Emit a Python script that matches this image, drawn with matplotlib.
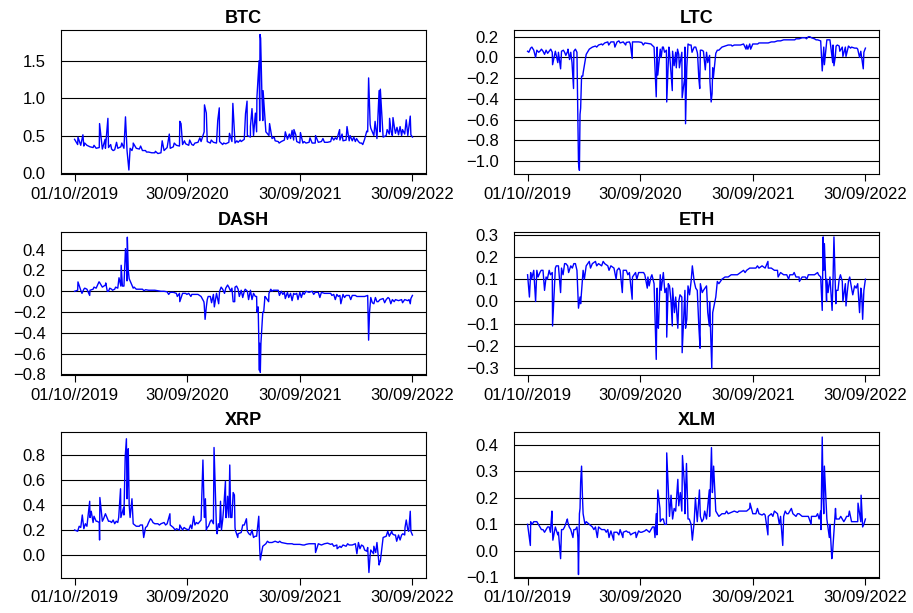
import numpy as np
import matplotlib
matplotlib.use("Agg")
import matplotlib.pyplot as plt

plt.rcParams["font.family"] = ["Liberation Sans", "DejaVu Sans"]

# -------------------------------
# Data (day index from 01/10/2019)
# -------------------------------

base_days = np.arange(0, 1100, 10)
end_day = 1095

xtick_days = [0, 365, 730, 1095]
xtick_labels = ["01/10//2019", "30/09/2020", "30/09/2021", "30/09/2022"]

btc_base = [
    0.45, 0.38, 0.37, 0.36, 0.37, 0.35, 0.34, 0.33, 0.34, 0.32,
    0.33, 0.34, 0.32, 0.31, 0.33, 0.35, 0.33, 0.30, 0.33, 0.36,
    0.33, 0.32, 0.30, 0.30, 0.28, 0.27, 0.27, 0.26, 0.27, 0.30,
    0.34, 0.33, 0.35, 0.37, 0.36, 0.38, 0.39, 0.37, 0.38, 0.40,
    0.41, 0.42, 0.55, 0.42, 0.40, 0.41, 0.40, 0.42, 0.38, 0.39,
    0.41, 0.42, 0.40, 0.41, 0.42, 0.45, 0.50, 0.48, 0.50, 0.55,
    0.70, 0.70, 0.55, 0.50, 0.46, 0.43, 0.42, 0.42, 0.44, 0.45,
    0.46, 0.44, 0.42, 0.40, 0.40, 0.40, 0.41, 0.40, 0.40, 0.41,
    0.42, 0.41, 0.41, 0.42, 0.44, 0.45, 0.44, 0.43, 0.44, 0.43,
    0.43, 0.42, 0.42, 0.40, 0.45, 0.55, 0.60, 0.50, 0.46, 0.55,
    0.48, 0.50, 0.52, 0.50, 0.53, 0.51, 0.50, 0.52, 0.50, 0.51,
]
btc_end = 0.48
btc_spike_days = [11, 27, 81, 99, 108, 136, 165, 176, 190, 284, 307, 341, 345,
                  406, 421, 427, 464, 469, 502, 513, 554, 559, 570, 575, 586,
                  591, 598, 601, 603, 607, 611, 632, 683, 705, 711, 732, 781,
                  859, 883, 947, 953, 958, 974, 987, 991, 1021, 1032, 1045,
                  1055, 1075, 1088]
btc_spike_vals = [0.48, 0.51, 0.66, 0.45, 0.73, 0.41, 0.75, 0.04, 0.40, 0.43,
                  0.52, 0.69, 0.66, 0.47, 0.91, 0.80, 0.70, 0.87, 0.53, 0.93,
                  0.79, 0.96, 0.62, 0.86, 0.80, 1.01, 1.50, 1.85, 1.80, 1.08,
                  1.10, 0.66, 0.55, 0.57, 0.58, 0.54, 0.50, 0.58, 0.62, 0.56,
                  1.27, 0.65, 0.69, 1.10, 1.12, 0.73, 0.74, 0.61, 0.62, 0.71,
                  0.76]
btc_minor_days = [33, 45, 63, 117, 125, 153, 186, 214, 233, 262, 323, 356,
                  373, 385, 443, 483, 526, 537, 647, 663, 696, 717, 744, 763,
                  805, 834, 845, 867, 893, 905, 914, 925, 934, 1013, 1026,
                  1037, 1063, 1083]
btc_minor_vals = [0.40, 0.36, 0.37, 0.38, 0.30, 0.40, 0.30, 0.36, 0.28, 0.29,
                  0.40, 0.43, 0.44, 0.37, 0.44, 0.40, 0.43, 0.44, 0.48, 0.40,
                  0.52, 0.51, 0.42, 0.47, 0.46, 0.48, 0.47, 0.52, 0.50, 0.48,
                  0.46, 0.40, 0.38, 0.58, 0.55, 0.60, 0.58, 0.60]

ltc_base = [
    0.06, 0.09, 0.07, 0.07, 0.06, 0.06, 0.07, 0.06, 0.05, 0.06,
    0.05, 0.06, 0.05, 0.06, 0.05, 0.06, 0.05, -0.55, -0.15, 0.03,
    0.08, 0.10, 0.11, 0.12, 0.13, 0.14, 0.15, 0.15, 0.15, 0.15,
    0.14, 0.15, 0.145, 0.15, 0.15, 0.15, 0.15, 0.145, 0.14, 0.135,
    0.13, 0.10, 0.10, 0.08, 0.10, 0.07, 0.05, 0.06, 0.05, 0.03,
    0.05, 0.10, 0.13, 0.12, 0.10, 0.05, 0.07, 0.06, 0.05, 0.02,
    -0.10, 0.04, 0.07, 0.10, 0.11, 0.12, 0.12, 0.12, 0.12, 0.12,
    0.13, 0.12, 0.13, 0.13, 0.13, 0.14, 0.14, 0.14, 0.14, 0.15,
    0.15, 0.16, 0.16, 0.17, 0.17, 0.17, 0.17, 0.18, 0.18, 0.19,
    0.19, 0.20, 0.19, 0.18, 0.17, 0.16, 0.10, 0.17, 0.17, 0.12,
    0.11, 0.11, 0.10, 0.10, 0.11, 0.10, 0.09, 0.08, 0.06, 0.05,
]
ltc_end = 0.09
ltc_spike_days = [26, 55, 81, 98, 107, 136, 144, 149, 161, 165, 168, 172, 175,
                  179, 339, 417, 422, 451, 469, 482, 492, 501, 509, 512, 516,
                  551, 555, 558, 576, 591, 595, 598, 602, 708, 723, 955, 962,
                  989, 993, 997, 1022, 1032, 1076, 1088]
ltc_spike_vals = [0.00, 0.03, -0.07, -0.05, -0.11, -0.02, -0.05, -0.30, -0.15,
                  -1.02, -1.09, -0.49, -0.18, -0.18, -0.01, -0.38, -0.17,
                  -0.43, -0.32, -0.10, -0.10, -0.39, -0.20, -0.64, -0.10,
                  0.03, -0.20, -0.30, -0.12, -0.23, -0.43, -0.35, -0.20, 0.08,
                  0.08, -0.13, -0.07, -0.05, -0.08, 0.00, 0.01, 0.01, 0.00,
                  -0.11]
ltc_minor_days = [4, 14, 36, 45, 65, 75, 88, 116, 124, 131, 155, 224, 243,
                  263, 283, 296, 318, 333, 357, 375, 403, 433, 437, 444, 458,
                  475, 486, 525, 533, 545, 565, 584, 615, 663, 684, 714, 746,
                  795, 866, 904, 915, 935, 1004, 1012, 1047, 1067]
ltc_minor_vals = [0.05, 0.10, 0.05, 0.08, 0.04, 0.08, 0.03, 0.07, 0.02, 0.08,
                  0.08, 0.10, 0.12, 0.12, 0.10, 0.16, 0.12, 0.13, 0.15, 0.12,
                  0.12, 0.00, 0.10, 0.05, 0.10, -0.08, 0.08, 0.12, 0.05, 0.10,
                  0.07, -0.05, 0.07, 0.11, 0.12, 0.08, 0.13, 0.15, 0.17, 0.18,
                  0.20, 0.17, 0.12, 0.06, 0.09, 0.09]

dash_base = [
    0.00, 0.01, 0.01, 0.02, 0.02, 0.01, 0.02, 0.03, 0.09, 0.04,
    0.06, 0.00, 0.02, 0.02, 0.03, 0.05, 0.05, 0.10, 0.10, 0.03,
    0.02, 0.02, 0.02, 0.015, 0.01, 0.01, 0.01, 0.005, 0.00, 0.00,
    -0.005, -0.01, -0.01, -0.02, -0.02, -0.02, -0.02, -0.02, -0.03, -0.03,
    -0.03, -0.05, -0.12, -0.08, -0.05, -0.03, -0.02, 0.00, 0.02, 0.03,
    0.04, 0.03, 0.04, 0.02, 0.01, 0.00, 0.00, 0.01, -0.02, -0.05,
    -0.50, -0.20, -0.06, -0.02, 0.00, 0.01, 0.01, 0.00, -0.01, -0.01,
    -0.02, -0.02, -0.02, -0.01, -0.01, 0.00, -0.01, 0.00, -0.01, -0.01,
    -0.01, -0.02, -0.02, -0.02, -0.03, -0.03, -0.04, -0.03, -0.04, -0.04,
    -0.04, -0.04, -0.05, -0.05, -0.05, -0.04, -0.06, -0.12, -0.10, -0.08,
    -0.07, -0.08, -0.07, -0.08, -0.08, -0.09, -0.08, -0.08, -0.09, -0.07,
]
dash_end = -0.04
dash_spike_days = [11, 49, 79, 101, 106, 144, 151, 155, 165, 168, 171, 174,
                   177, 305, 341, 419, 423, 427, 453, 467, 514, 519, 564, 586,
                   591, 595, 598, 599, 602, 604, 607, 613, 629, 683, 705, 724,
                   863, 953, 956, 1088]
dash_spike_vals = [0.09, -0.04, 0.09, 0.08, 0.00, 0.13, 0.25, 0.05, 0.41,
                   0.28, 0.52, 0.20, 0.12, -0.03, -0.10, -0.10, -0.27, -0.15,
                   -0.15, -0.12, -0.10, -0.10, -0.08, -0.05, -0.20, -0.15,
                   -0.60, -0.76, -0.78, -0.50, -0.35, -0.20, -0.10, -0.07,
                   -0.09, -0.08, -0.12, -0.47, -0.20, -0.12]
dash_minor_days = [24, 33, 63, 86, 114, 123, 133, 193, 225, 318, 333, 364,
                   377, 433, 444, 475, 486, 496, 506, 525, 534, 545, 553, 575,
                   617, 636, 644, 664, 675, 694, 714, 735, 744, 775, 795, 834,
                   845, 855, 875, 895, 915, 965, 975, 984, 1005, 1016, 1025,
                   1036, 1063, 1084]
dash_minor_vals = [-0.02, 0.03, 0.04, 0.06, 0.03, 0.01, 0.04, 0.04, 0.005,
                   -0.01, -0.05, -0.03, -0.05, -0.05, -0.11, 0.04, -0.02,
                   0.06, 0.00, 0.05, -0.05, -0.06, 0.02, -0.08, -0.05, 0.02,
                   0.01, -0.04, -0.03, -0.06, -0.03, -0.06, -0.03, -0.03,
                   -0.06, -0.04, -0.08, -0.05, -0.06, -0.08, -0.05, -0.11,
                   -0.06, -0.10, -0.11, -0.06, -0.12, -0.10, -0.11, -0.08]

eth_base = [
    0.12, 0.13, 0.14, 0.14, 0.13, 0.14, 0.11, 0.14, 0.13, 0.15,
    0.16, 0.15, 0.17, 0.16, 0.16, 0.17, 0.14, 0.02, 0.14, 0.16,
    0.18, 0.17, 0.18, 0.17, 0.16, 0.17, 0.16, 0.16, 0.15, 0.14,
    0.14, 0.14, 0.14, 0.13, 0.11, 0.13, 0.13, 0.13, 0.12, 0.11,
    0.11, 0.08, 0.06, 0.12, 0.13, 0.06, 0.07, 0.06, 0.02, 0.00,
    0.02, 0.05, 0.07, 0.09, 0.09, 0.05, 0.08, 0.05, 0.07, 0.00,
    -0.05, 0.02, 0.08, 0.10, 0.11, 0.11, 0.12, 0.12, 0.12, 0.13,
    0.14, 0.14, 0.15, 0.15, 0.15, 0.15, 0.16, 0.15, 0.15, 0.15,
    0.14, 0.14, 0.13, 0.12, 0.12, 0.12, 0.12, 0.11, 0.11, 0.11,
    0.11, 0.12, 0.12, 0.12, 0.13, 0.11, 0.14, 0.10, 0.11, 0.10,
    0.05, 0.10, 0.09, 0.08, 0.09, 0.06, 0.07, 0.08, 0.06, 0.05,
]
eth_end = 0.10
eth_spike_days = [6, 26, 55, 81, 107, 165, 168, 172, 287, 307, 339, 388, 417,
                  421, 424, 451, 465, 469, 487, 501, 512, 516, 534, 555, 559,
                  584, 589, 597, 779, 881, 955, 958, 962, 969, 987, 993, 999,
                  1022, 1032, 1054, 1076, 1086]
eth_spike_vals = [0.02, 0.00, 0.05, -0.11, 0.04, -0.03, 0.00, -0.01, 0.10,
                  0.04, 0.01, 0.06, -0.26, -0.10, -0.12, -0.16, 0.00, -0.11,
                  -0.12, -0.23, -0.12, -0.08, 0.16, -0.11, -0.21, -0.05,
                  -0.11, -0.30, 0.18, 0.09, -0.04, 0.29, 0.26, 0.00, -0.04,
                  0.29, -0.01, 0.00, -0.02, 0.03, -0.05, -0.08]
eth_minor_days = [13, 34, 44, 64, 74, 93, 115, 124, 133, 145, 155, 184, 204,
                  224, 245, 264, 296, 325, 354, 376, 394, 403, 433, 445, 456,
                  476, 494, 525, 545, 566, 575, 615, 705, 745, 812, 835, 846,
                  864, 905, 925, 943, 974, 1006, 1014, 1036, 1044, 1065, 1083]
eth_minor_vals = [0.10, 0.11, 0.14, 0.10, 0.12, 0.16, 0.12, 0.17, 0.13, 0.15,
                  0.17, 0.10, 0.15, 0.16, 0.18, 0.14, 0.15, 0.12, 0.10, 0.13,
                  0.07, 0.12, 0.05, 0.04, 0.08, -0.05, 0.03, 0.03, 0.06, 0.04,
                  0.06, 0.09, 0.13, 0.16, 0.11, 0.12, 0.10, 0.13, 0.10, 0.12,
                  0.12, 0.04, 0.05, 0.12, 0.04, 0.11, 0.06, 0.03]

xrp_base = [
    0.20, 0.19, 0.22, 0.21, 0.23, 0.30, 0.26, 0.27, 0.26, 0.27,
    0.33, 0.27, 0.26, 0.25, 0.26, 0.30, 0.32, 0.45, 0.30, 0.25,
    0.23, 0.23, 0.24, 0.22, 0.26, 0.28, 0.25, 0.25, 0.25, 0.26,
    0.25, 0.24, 0.22, 0.21, 0.20, 0.20, 0.21, 0.20, 0.21, 0.24,
    0.25, 0.28, 0.35, 0.22, 0.27, 0.25, 0.20, 0.22, 0.28, 0.30,
    0.30, 0.30, 0.22, 0.17, 0.18, 0.24, 0.19, 0.16, 0.14, 0.15,
    0.05, 0.07, 0.09, 0.10, 0.10, 0.11, 0.10, 0.10, 0.095, 0.09,
    0.09, 0.085, 0.085, 0.085, 0.08, 0.085, 0.09, 0.09, 0.09, 0.09,
    0.08, 0.09, 0.095, 0.085, 0.07, 0.08, 0.07, 0.08, 0.07, 0.08,
    0.08, 0.09, 0.10, 0.08, 0.04, 0.06, 0.04, 0.07, 0.10, -0.05,
    0.14, 0.15, 0.15, 0.17, 0.16, 0.16, 0.16, 0.16, 0.20, 0.19,
]
xrp_end = 0.16
xrp_spike_days = [25, 49, 54, 81, 82, 149, 159, 164, 168, 172, 174, 177, 186,
                  224, 246, 309, 341, 386, 416, 421, 424, 427, 452, 462, 473,
                  476, 489, 492, 496, 503, 506, 514, 518, 521, 529, 557, 597,
                  602, 781, 851, 915, 947, 954, 958, 969, 987, 991, 1028,
                  1044, 1071, 1075, 1088]
xrp_spike_vals = [0.32, 0.43, 0.35, 0.12, 0.46, 0.53, 0.38, 0.78, 0.93, 0.60,
                  0.85, 0.40, 0.45, 0.14, 0.29, 0.33, 0.24, 0.31, 0.76, 0.30,
                  0.45, 0.20, 0.86, 0.17, 0.43, 0.20, 0.59, 0.30, 0.47, 0.72,
                  0.30, 0.50, 0.48, 0.20, 0.14, 0.29, 0.31, -0.04, 0.02, 0.05,
                  0.01, 0.03, -0.14, 0.00, 0.01, -0.08, -0.05, 0.19, 0.11,
                  0.22, 0.28, 0.35]
xrp_minor_days = [15, 35, 63, 73, 94, 105, 115, 125, 135, 143, 195, 213, 235,
                  254, 275, 295, 326, 355, 376, 395, 434, 444, 466, 484, 545,
                  565, 575, 585, 625, 665, 705, 745, 764, 835, 864, 885, 896,
                  925, 936, 976, 1015, 1036, 1055, 1064, 1083]
xrp_minor_vals = [0.23, 0.25, 0.31, 0.27, 0.29, 0.30, 0.27, 0.28, 0.27, 0.30,
                  0.24, 0.24, 0.23, 0.26, 0.24, 0.24, 0.20, 0.22, 0.24, 0.26,
                  0.23, 0.28, 0.25, 0.40, 0.24, 0.17, 0.20, 0.15, 0.11, 0.11,
                  0.09, 0.08, 0.09, 0.09, 0.06, 0.09, 0.08, 0.05, 0.07, 0.02,
                  0.19, 0.16, 0.12, 0.17, 0.19]

xlm_base = [
    0.10, 0.11, 0.11, 0.11, 0.09, 0.08, 0.08, 0.09, 0.10, 0.09,
    0.07, 0.08, 0.09, 0.11, 0.08, 0.08, 0.09, 0.16, 0.14, 0.11,
    0.10, 0.09, 0.09, 0.09, 0.08, 0.08, 0.08, 0.075, 0.07, 0.07,
    0.08, 0.07, 0.075, 0.07, 0.065, 0.07, 0.075, 0.07, 0.075, 0.075,
    0.08, 0.09, 0.10, 0.11, 0.12, 0.10, 0.13, 0.12, 0.15, 0.17,
    0.15, 0.14, 0.12, 0.10, 0.11, 0.11, 0.13, 0.12, 0.12, 0.13,
    0.24, 0.15, 0.13, 0.14, 0.14, 0.14, 0.145, 0.15, 0.145, 0.15,
    0.15, 0.15, 0.16, 0.14, 0.14, 0.14, 0.135, 0.135, 0.13, 0.14,
    0.15, 0.14, 0.13, 0.13, 0.14, 0.15, 0.14, 0.13, 0.14, 0.13,
    0.13, 0.13, 0.13, 0.13, 0.14, 0.15, 0.14, 0.12, 0.10, 0.02,
    0.12, 0.12, 0.12, 0.12, 0.13, 0.11, 0.11, 0.11, 0.11, 0.10,
]
xlm_end = 0.12
xlm_spike_days = [9, 79, 82, 98, 107, 129, 147, 163, 165, 168, 172, 175, 178,
                  226, 279, 309, 352, 417, 419, 422, 429, 451, 465, 487, 495,
                  502, 509, 515, 534, 557, 589, 596, 599, 603, 606, 721, 779,
                  816, 827, 919, 951, 955, 958, 962, 978, 986, 989, 998, 1043,
                  1071, 1081, 1086]
xlm_spike_vals = [0.02, 0.15, 0.04, 0.06, -0.03, 0.12, 0.05, 0.05, -0.09,
                  0.14, 0.26, 0.32, 0.20, 0.05, 0.04, 0.05, 0.05, 0.14, 0.06,
                  0.23, 0.16, 0.37, 0.21, 0.27, 0.22, 0.36, 0.24, 0.33, 0.04,
                  0.23, 0.23, 0.39, 0.22, 0.32, 0.25, 0.18, 0.06, 0.10, 0.02,
                  0.10, 0.08, 0.43, 0.20, 0.32, 0.05, -0.03, 0.00, 0.16, 0.15,
                  0.18, 0.21, 0.09]
xlm_minor_days = [15, 35, 45, 55, 65, 74, 115, 135, 155, 186, 215, 245, 255,
                  264, 285, 296, 325, 334, 365, 385, 395, 405, 413, 436, 444,
                  475, 524, 544, 565, 574, 615, 645, 685, 745, 766, 795, 835,
                  845, 855, 875, 895, 935, 945, 1015, 1025, 1034, 1055, 1065]
xlm_minor_vals = [0.10, 0.10, 0.08, 0.07, 0.09, 0.07, 0.08, 0.09, 0.08, 0.10,
                  0.08, 0.08, 0.07, 0.05, 0.07, 0.06, 0.07, 0.06, 0.07, 0.08,
                  0.07, 0.09, 0.05, 0.12, 0.10, 0.16, 0.12, 0.20, 0.11, 0.15,
                  0.14, 0.15, 0.15, 0.16, 0.14, 0.13, 0.15, 0.14, 0.16, 0.14,
                  0.13, 0.13, 0.12, 0.13, 0.11, 0.13, 0.11, 0.11]


def build_series(base, spike_days, spike_vals, minor_days, minor_vals, end_val):
    days = np.concatenate([base_days, spike_days, minor_days, [end_day]])
    vals = np.concatenate([base, spike_vals, minor_vals, [end_val]])
    order = np.argsort(days, kind="stable")
    return days[order], vals[order]


panels = [
    ("BTC", btc_base, btc_spike_days, btc_spike_vals, btc_minor_days,
     btc_minor_vals, btc_end, [0.0, 0.5, 1.0, 1.5], (-0.02, 1.91)),
    ("LTC", ltc_base, ltc_spike_days, ltc_spike_vals, ltc_minor_days,
     ltc_minor_vals, ltc_end, [-1.0, -0.8, -0.6, -0.4, -0.2, 0.0, 0.2],
     (-1.13, 0.265)),
    ("DASH", dash_base, dash_spike_days, dash_spike_vals, dash_minor_days,
     dash_minor_vals, dash_end, [-0.8, -0.6, -0.4, -0.2, 0.0, 0.2, 0.4],
     (-0.805, 0.57)),
    ("ETH", eth_base, eth_spike_days, eth_spike_vals, eth_minor_days,
     eth_minor_vals, eth_end, [-0.3, -0.2, -0.1, 0.0, 0.1, 0.2, 0.3],
     (-0.33, 0.312)),
    ("XRP", xrp_base, xrp_spike_days, xrp_spike_vals, xrp_minor_days,
     xrp_minor_vals, xrp_end, [0.0, 0.2, 0.4, 0.6, 0.8], (-0.184, 0.984)),
    ("XLM", xlm_base, xlm_spike_days, xlm_spike_vals, xlm_minor_days,
     xlm_minor_vals, xlm_end, [-0.1, 0.0, 0.1, 0.2, 0.3, 0.4],
     (-0.103, 0.449)),
]

# -------------------------------
# Layout (figure fractions)
# -------------------------------

col_x = [61 / 913, 514 / 913]
col_w = 365 / 913
row_boxes = [(30, 174.5), (232, 375), (432, 578)]

fig = plt.figure(figsize=(9.13, 6.13), dpi=100)

for i, (name, base, sdays, svals, mdays, mvals, endv, yticks, ylim) in enumerate(panels):
    row, col = divmod(i, 2)
    top, bottom = row_boxes[row]
    ax = fig.add_axes([col_x[col], 1 - bottom / 613, col_w, (bottom - top) / 613])

    days, vals = build_series(base, sdays, svals, mdays, mvals, endv)

    for y in yticks:
        ax.axhline(y, color="black", linewidth=0.8, zorder=1)

    ax.plot(days, vals, color="#0000ff", linewidth=1.0, zorder=2)

    ax.set_xlim(-44, 1139)
    ax.set_ylim(*ylim)

    ax.set_xticks(xtick_days)
    ax.set_xticklabels(xtick_labels, fontsize=12)
    ax.set_yticks(yticks)
    ax.set_yticklabels(["{:.1f}".format(y).replace("-", "\u2212") for y in yticks],
                       fontsize=12)

    ax.tick_params(axis="x", direction="out", length=5, width=0.8, pad=4)
    ax.tick_params(axis="y", length=0, pad=11)

    for spine in ax.spines.values():
        spine.set_linewidth(0.8)

    ax.set_title(name, fontsize=13, fontweight="bold", pad=5)

fig.savefig("out.png", dpi=100)
